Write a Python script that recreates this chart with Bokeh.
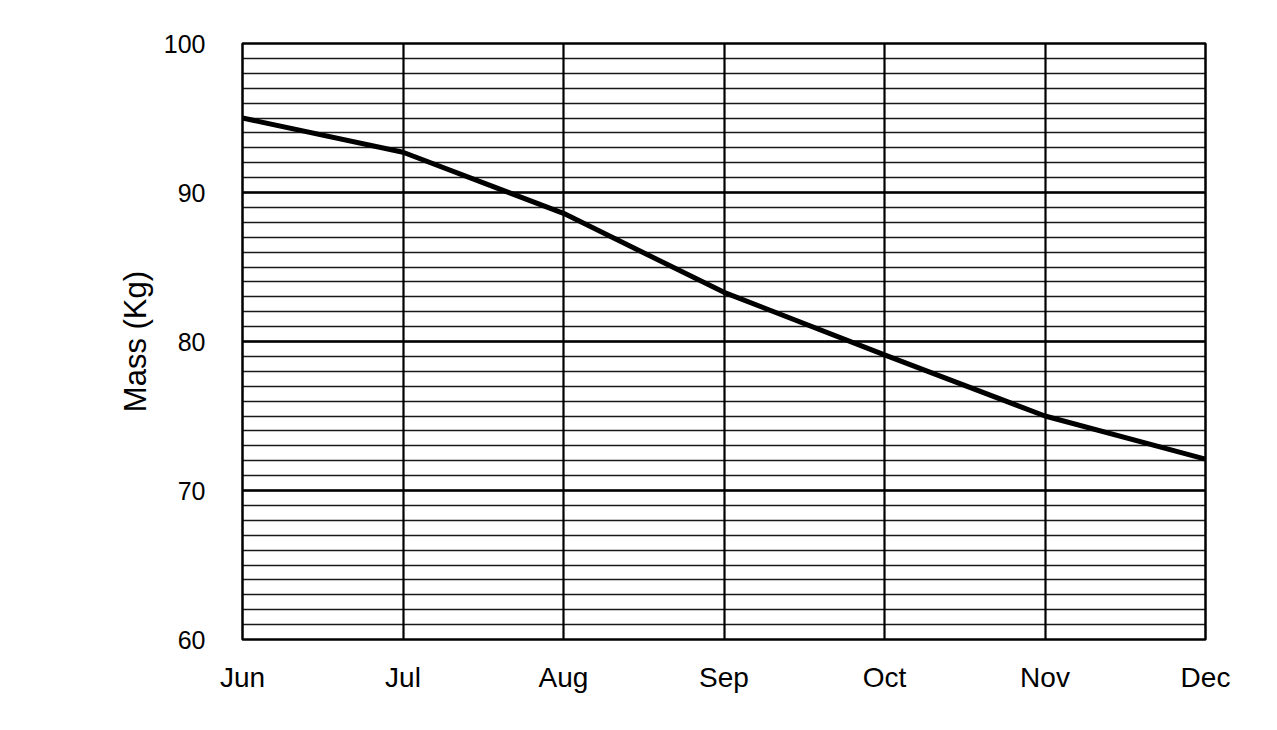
from bokeh.plotting import figure
from bokeh.models import FixedTicker, Range1d
from bokeh.embed import file_html
from bokeh.resources import INLINE

months = ["Jun", "Jul", "Aug", "Sep", "Oct", "Nov", "Dec"]
mass = [95.0, 92.7, 88.6, 83.3, 79.1, 75.0, 72.1]
y_ticks = [60, 70, 80, 90, 100]

x = list(range(len(months)))

p = figure(width=1269, height=722, output_backend="svg", toolbar_location=None,
           x_range=Range1d(0, len(months) - 1), y_range=Range1d(60, 100),
           min_border_left=242, min_border_top=43, min_border_bottom=83, min_border_right=64)

p.line(x, mass, line_color="black", line_width=5)

FONT = "Liberation Sans"
p.outline_line_color = "black"
p.outline_line_width = 2.5
p.background_fill_color = "white"
p.border_fill_color = "white"

p.xaxis.ticker = FixedTicker(ticks=x)
p.xaxis.major_label_overrides = {i: m for i, m in enumerate(months)}
p.yaxis.ticker = FixedTicker(ticks=y_ticks, minor_ticks=list(range(60, 101)))

for ax in (p.xaxis[0], p.yaxis[0]):
    ax.axis_line_color = None
    ax.major_tick_line_color = None
    ax.minor_tick_line_color = None
    ax.major_label_text_font = FONT
    ax.major_label_text_color = "black"

p.xaxis.major_label_text_font_size = "28px"
p.yaxis.major_label_text_font_size = "25px"
p.xaxis.major_label_standoff = 16
p.yaxis.major_label_standoff = 31
p.yaxis.axis_label = "Mass (Kg)"
p.yaxis.axis_label_text_font = FONT
p.yaxis.axis_label_text_font_size = "31px"
p.yaxis.axis_label_text_font_style = "normal"
p.yaxis.axis_label_text_color = "black"
p.yaxis.axis_label_standoff = 8

p.xgrid.ticker = FixedTicker(ticks=x)
p.xgrid.grid_line_color = "black"
p.xgrid.grid_line_width = 2.2
p.xgrid.grid_line_alpha = 1

p.ygrid.grid_line_color = "black"
p.ygrid.grid_line_width = 2.4
p.ygrid.minor_grid_line_color = "black"
p.ygrid.minor_grid_line_width = 1.6
p.ygrid.minor_grid_line_alpha = 0.9

open("out.html", "w").write(file_html(p, INLINE))
